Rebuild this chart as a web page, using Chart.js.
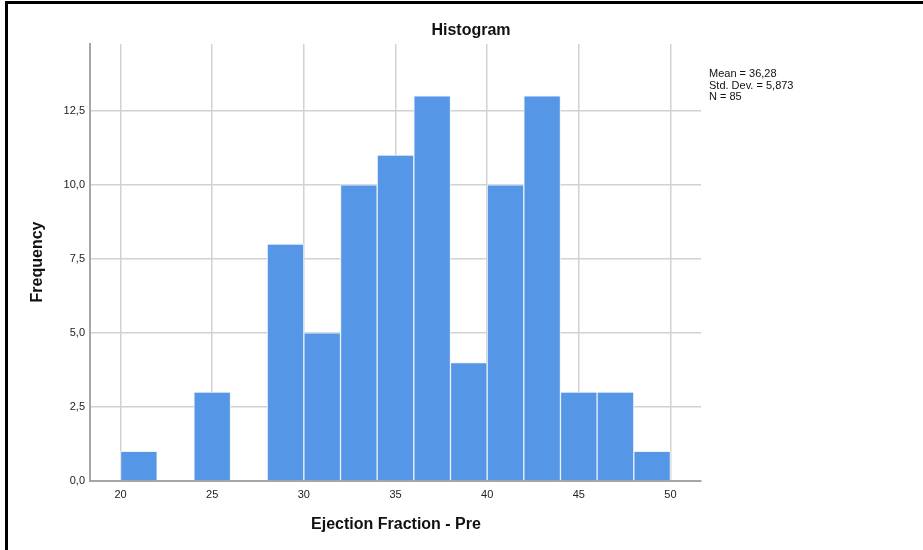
<!DOCTYPE html>
<html>
<head>
<meta charset="utf-8">
<title>Histogram</title>
<script src="https://cdn.jsdelivr.net/npm/chart.js@4.4.1/dist/chart.umd.min.js"></script>
<style>
  html, body { margin: 0; padding: 0; background: #fff; }
  #wrap { width: 923px; height: 550px; position: relative; }
</style>
</head>
<body>
<div id="wrap"><canvas id="hist"></canvas></div>
<script>
// Ejection Fraction - Pre, bins of width 2
const binCenters = [21, 23, 25, 27, 29, 31, 33, 35, 37, 39, 41, 43, 45, 47, 49];
const frequencies = [1, 0, 3, 0, 8, 5, 10, 11, 13, 4, 10, 13, 3, 3, 1];
const xTicks = [20, 25, 30, 35, 40, 45, 50];
const yTicks = [0, 2.5, 5, 7.5, 10, 12.5];
const statsLines = ['Mean = 36,28', 'Std. Dev. = 5,873', 'N = 85'];

const FONT = '"Liberation Sans", Arial, sans-serif';

const textPlugin = {
  id: 'spssText',
  afterDraw(chart){
    const ctx = chart.ctx;
    ctx.save();
    // frame (left + top)
    ctx.fillStyle = '#000';
    ctx.fillRect(5, 1, 918, 3);
    ctx.fillRect(5, 1, 3, 549);

    ctx.fillStyle = '#111';
    ctx.textAlign = 'center';
    ctx.textBaseline = 'middle';
    ctx.font = 'bold 16px ' + FONT;
    ctx.fillText('Histogram', 471, 31);
    ctx.fillText('Ejection Fraction - Pre', 396, 525);

    ctx.save();
    ctx.translate(38, 262);
    ctx.rotate(-Math.PI / 2);
    ctx.fillText('Frequency', 0, 0);
    ctx.restore();

    ctx.textAlign = 'left';
    ctx.font = '11px ' + FONT;
    statsLines.forEach((l, i) => ctx.fillText(l, 709, 74 + i * 11.5));
    ctx.restore();
  }
};

new Chart(document.getElementById('hist'), {
  type: 'bar',
  data: {
    datasets: [{
      data: binCenters.map((x, i) => ({ x, y: frequencies[i] })),
      backgroundColor: '#5596e6',
      borderColor: '#eaf2fc',
      borderWidth: 1,
      barPercentage: 1,
      categoryPercentage: 1
    }]
  },
  options: {
    responsive: true,
    maintainAspectRatio: false,
    animation: false,
    layout: { padding: { left: 0, top: 44, right: 222, bottom: 0 } },
    plugins: { legend: { display: false }, tooltip: { enabled: false } },
    scales: {
      x: {
        type: 'linear',
        offset: false,
        min: 18.333,
        max: 51.667,
        afterBuildTicks: s => { s.ticks = xTicks.map(v => ({ value: v })); },
        afterFit: s => { s.height = 69; },
        grid: { offset: false, color: '#d2d2d2', lineWidth: 1.5, drawTicks: false },
        border: { color: '#a6a6a6', width: 2 },
        ticks: { padding: 7, color: '#222', font: { family: FONT, size: 11 }, maxRotation: 0 }
      },
      y: {
        min: 0,
        max: 14.75,
        afterBuildTicks: s => { s.ticks = yTicks.map(v => ({ value: v })); },
        afterFit: s => { s.width = 90; },
        grid: { color: '#d2d2d2', lineWidth: 1.5, drawTicks: false },
        border: { color: '#a6a6a6', width: 2 },
        ticks: {
          padding: 5, color: '#222', font: { family: FONT, size: 11 },
          callback: v => v.toFixed(1).replace('.', ',')
        }
      }
    }
  },
  plugins: [textPlugin]
});
</script>
</body>
</html>
